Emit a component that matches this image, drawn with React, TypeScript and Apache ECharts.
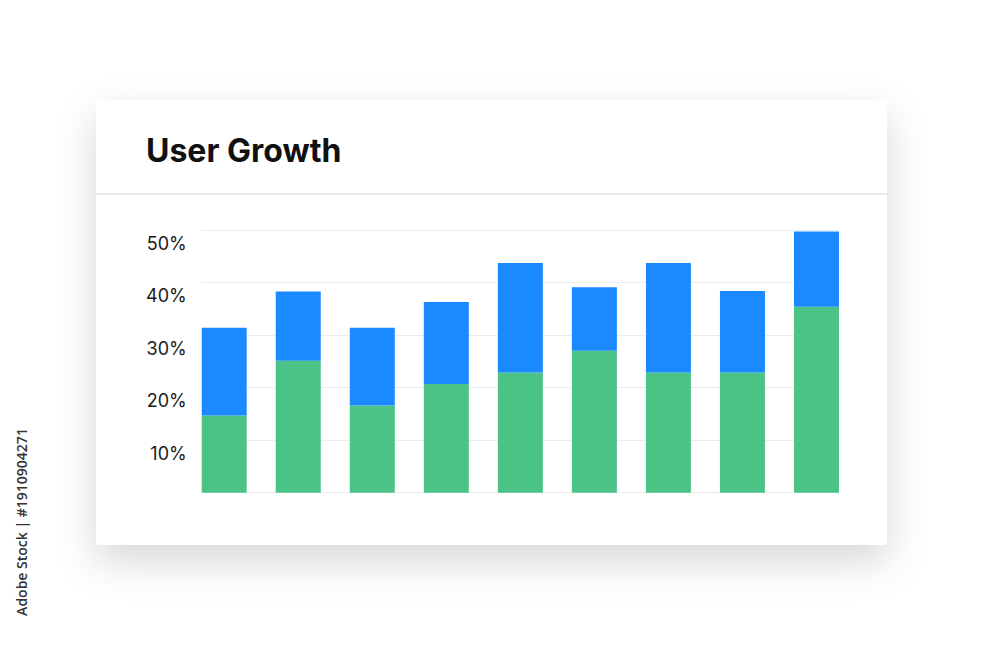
import React, { useEffect, useRef } from "react";
import * as echarts from "echarts";

const categories = ["1", "2", "3", "4", "5", "6", "7", "8", "9"];
const greenValues = [14.7, 25.1, 16.6, 20.7, 22.9, 27.0, 22.9, 22.9, 35.4];
const blueValues = [16.7, 13.2, 14.8, 15.6, 20.8, 12.1, 20.8, 15.5, 14.3];
const yTicks = [0, 10, 20, 30, 40, 50];
const titleText = "User Growth";
const creditText = "Adobe Stock | #1910904271";

export default function App() {
  const ref = useRef<HTMLDivElement>(null);

  useEffect(() => {
    document.body.style.margin = "0";
    const chart = echarts.init(ref.current!, null, { renderer: "svg" });
    const yMin = yTicks[0];
    const yMax = yTicks[yTicks.length - 1];
    const step = yTicks[1] - yTicks[0];
    const option: any = {
      animation: false,
      backgroundColor: "#ffffff",
      graphic: [
        {
          type: "rect",
          z: -10,
          shape: { x: 96, y: 100, width: 791, height: 445, r: 4 },
          style: {
            fill: "#ffffff",
            shadowBlur: 40,
            shadowOffsetY: 16,
            shadowColor: "rgba(0,0,0,0.16)",
          },
        },
        {
          type: "line",
          z: -9,
          shape: { x1: 96, y1: 194, x2: 887, y2: 194 },
          style: { stroke: "#e3e3e3", lineWidth: 1.5 },
        },
        {
          type: "text",
          x: 146,
          y: 150,
          style: {
            text: titleText,
            fontFamily: "Inter",
            fontSize: 32,
            fontWeight: "bold",
            fill: "#111111",
            align: "left",
            verticalAlign: "middle",
          },
        },
        {
          type: "text",
          x: 21.5,
          y: 522,
          rotation: Math.PI / 2,
          style: {
            text: creditText,
            fontFamily: "Open Sans",
            fontSize: 14,
            fontWeight: 600,
            fill: "#333333",
            align: "center",
            verticalAlign: "middle",
          },
        },
      ],
      grid: [
        { left: 201.7, right: 161, top: 230, bottom: 174.3 },
        { left: 187.2, right: 146.5, top: 230, bottom: 174.3 },
      ],
      xAxis: [
        { type: "category", gridIndex: 0, data: categories, show: false },
        { type: "category", gridIndex: 1, data: categories, show: false },
      ],
      yAxis: [
        {
          type: "value",
          gridIndex: 0,
          min: yMin,
          max: yMax,
          interval: step,
          axisLine: { show: false },
          axisTick: { show: false },
          splitLine: { lineStyle: { color: "#ececec", width: 1 } },
          axisLabel: {
            margin: 15,
            fontFamily: "Inter",
            fontSize: 18,
            color: "#1a1a1a",
            verticalAlign: "top",
            padding: [4, 0, 0, 0],
            formatter: (v: number) => (v === 0 ? "" : v + "%"),
          },
        },
        {
          type: "value",
          gridIndex: 1,
          min: yMin,
          max: yMax,
          interval: step,
          show: false,
          splitLine: { show: false },
        },
      ],
      series: [
        {
          type: "bar",
          xAxisIndex: 1,
          yAxisIndex: 1,
          stack: "total",
          barWidth: 45,
          data: greenValues,
          itemStyle: { color: "#4CC386" },
        },
        {
          type: "bar",
          xAxisIndex: 1,
          yAxisIndex: 1,
          stack: "total",
          barWidth: 45,
          data: blueValues,
          itemStyle: { color: "#1B89FF" },
        },
      ],
    };
    chart.setOption(option);
    return () => chart.dispose();
  }, []);

  return (
    <div
      ref={ref}
      style={{ position: "absolute", left: 0, top: 0, width: 1000, height: 667 }}
    />
  );
}
